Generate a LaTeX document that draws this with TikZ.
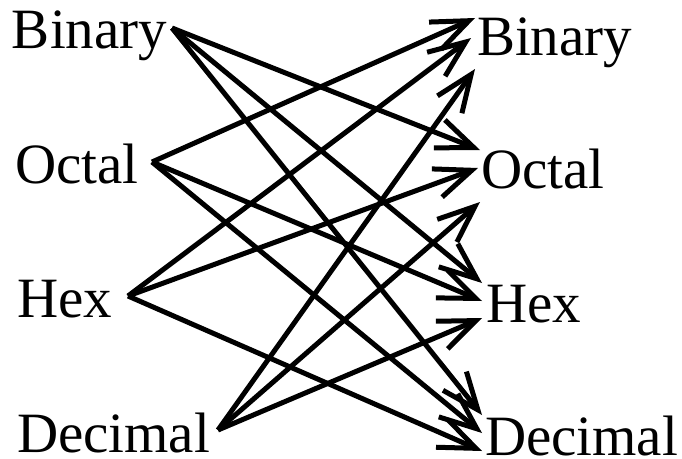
\documentclass[tikz,border=0pt]{standalone}
\usepackage{fontspec}
\setmainfont{Liberation Serif}
\usetikzlibrary{arrows.meta}
\begin{document}
\begin{tikzpicture}[x=1pt,y=-1pt,
  lbl/.style={anchor=base west,inner sep=0pt,outer sep=0pt,font=\fontsize{57}{60}\selectfont},
  conn/.style={line width=5pt,-{Straight Barb[length=37pt,width=30pt,line cap=butt,line join=miter]}}]
\useasboundingbox (0,0) rectangle (682,458);
% labels
\node[lbl] (lB) at (12,48) {Binary};
\node[lbl] (lO) at (15,183) {Octal};
\node[lbl] (lH) at (17,317) {Hex};
\node[lbl] (lD) at (17,452) {Decimal};
\node[lbl] (rB) at (477,55) {Binary};
\node[lbl] (rO) at (481,188) {Octal};
\node[lbl] (rH) at (486,322) {Hex};
\node[lbl] (rD) at (485,455) {Decimal};
% start points
\coordinate (lB-o) at (172,28);
\coordinate (lO-o) at (152,162);
\coordinate (lH-o) at (128,296);
\coordinate (lD-o) at (218,430);
% end points
\coordinate (rB-O) at (475,18);
\coordinate (rB-H) at (471,38);
\coordinate (rB-D) at (475,69);
\coordinate (rO-B) at (480,150);
\coordinate (rO-H) at (478,168);
\coordinate (rO-D) at (480,202);
\coordinate (rH-B) at (482,283);
\coordinate (rH-O) at (482,301);
\coordinate (rH-D) at (482,318);
\coordinate (rD-B) at (482,415);
\coordinate (rD-O) at (482,433);
\coordinate (rD-H) at (482,451);
% connectors
\draw[conn] (lB-o) -- (rO-B);
\draw[conn] (lB-o) -- (rH-B);
\draw[conn] (lB-o) -- (rD-B);
\draw[conn] (lO-o) -- (rB-O);
\draw[conn] (lO-o) -- (rH-O);
\draw[conn] (lO-o) -- (rD-O);
\draw[conn] (lH-o) -- (rB-H);
\draw[conn] (lH-o) -- (rO-H);
\draw[conn] (lH-o) -- (rD-H);
\draw[conn] (lD-o) -- (rB-D);
\draw[conn] (lD-o) -- (rO-D);
\draw[conn] (lD-o) -- (rH-D);
\end{tikzpicture}
\end{document}
